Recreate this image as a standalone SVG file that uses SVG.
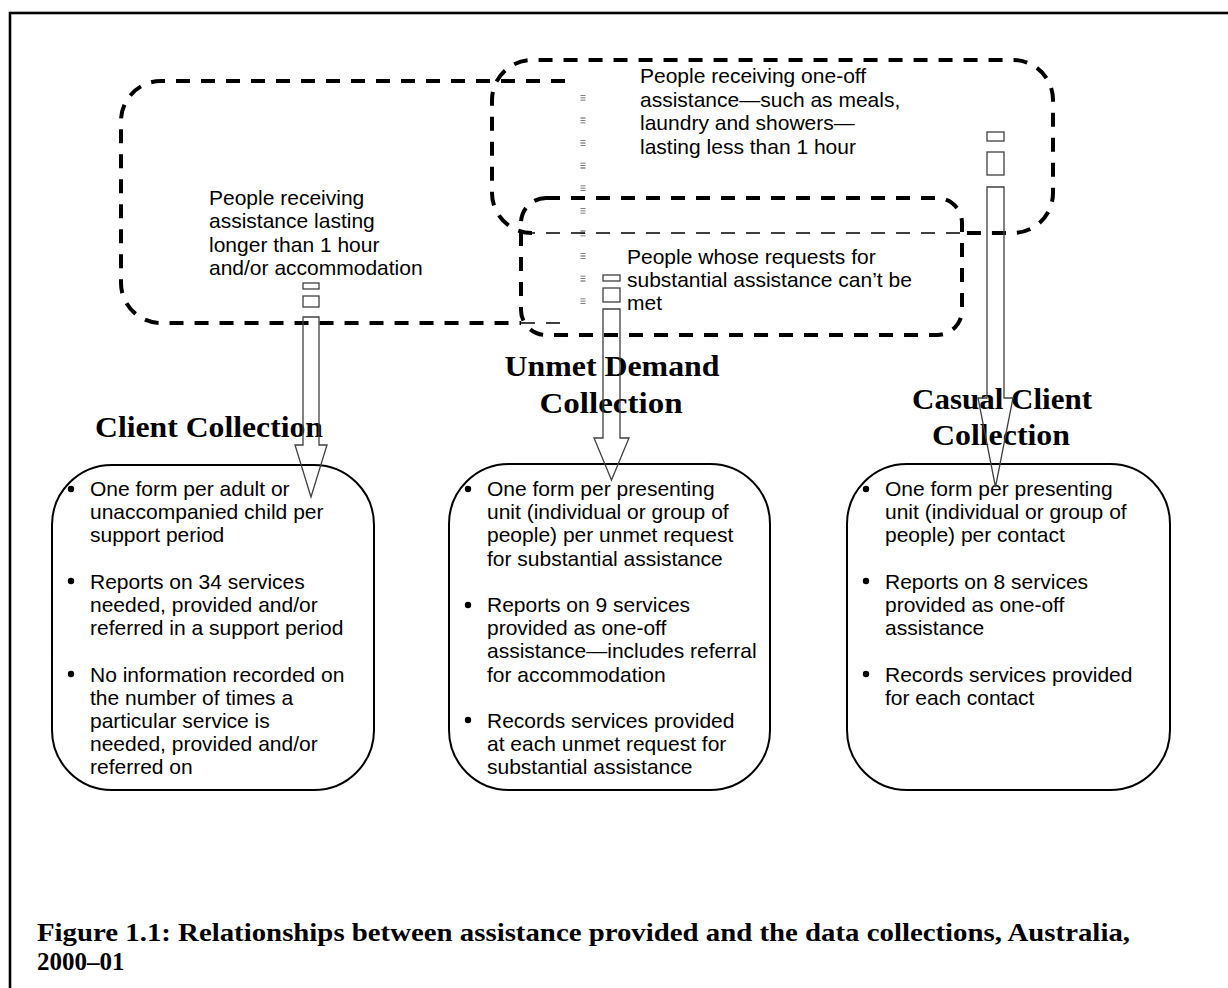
<svg xmlns="http://www.w3.org/2000/svg" width="1228" height="988" viewBox="0 0 1228 988">
<style>
.dash{fill:none;stroke:#000;stroke-width:4;stroke-dasharray:14 11}
.thin{fill:none;stroke:#000;stroke-width:1.5;stroke-dasharray:14 11}
.faint{fill:none;stroke:#555;stroke-width:5;stroke-dasharray:0.8 1.6 0.8 1.6 0.8 17}
.box{fill:none;stroke:#000;stroke-width:2}
.arr{fill:none;stroke:#404040;stroke-width:1.3}
.t{font-family:"Liberation Sans",Arial,sans-serif;font-size:21px;fill:#000}
.h{font-family:"Liberation Serif","Times New Roman",serif;font-weight:bold;font-size:29px;fill:#000;text-anchor:middle}
.cap{font-family:"Liberation Serif","Times New Roman",serif;font-weight:bold;font-size:25px;fill:#000}
</style>
<rect x="0" y="0" width="1228" height="988" fill="#fff"/>
<rect x="10" y="13" width="1240" height="1000" fill="none" stroke="#000" stroke-width="2.6"/>

<g id="long-assistance">
<path class="dash" d="M565,81 H161 A40,40 0 0 0 121,121 V283 A40,40 0 0 0 161,323 H521"/>
<path class="thin" d="M521,323 H563"/>
<path class="faint" d="M583,95 V310"/>
<text class="t" x="209" y="205">People receiving</text>
<text class="t" x="209" y="228.3">assistance lasting</text>
<text class="t" x="209" y="251.6">longer than 1 hour</text>
<text class="t" x="209" y="274.9">and/or accommodation</text>
</g>

<g id="one-off-assistance">
<path class="dash" d="M532,233 A40,40 0 0 1 492,193 V100 A40,40 0 0 1 532,60 H1013 A40,40 0 0 1 1053,100 V193 A40,40 0 0 1 1013,233 H962"/>
<path class="thin" d="M521,233 H962"/>
<text class="t" x="640" y="83">People receiving one-off</text>
<text class="t" x="640" y="106.5">assistance—such as meals,</text>
<text class="t" x="640" y="130">laundry and showers—</text>
<text class="t" x="640" y="153.5">lasting less than 1 hour</text>
</g>

<g id="unmet-requests">
<rect class="dash" x="521" y="198" width="441" height="137" rx="25"/>
<text class="t" x="627" y="264">People whose requests for</text>
<text class="t" x="627" y="287">substantial assistance can’t be</text>
<text class="t" x="627" y="310">met</text>
</g>

<g id="client-collection">
<text class="h" x="209" y="437" textLength="228" lengthAdjust="spacingAndGlyphs">Client Collection</text>
<rect class="box" x="52" y="465" width="322" height="325" rx="60"/>
<g class="t">
<circle cx="71" cy="489" r="3.2"/>
<text x="90" y="496">One form per adult or</text>
<text x="90" y="519.2">unaccompanied child per</text>
<text x="90" y="542.4">support period</text>
<circle cx="71" cy="581" r="3.2"/>
<text x="90" y="588.8">Reports on 34 services</text>
<text x="90" y="612">needed, provided and/or</text>
<text x="90" y="635.2">referred in a support period</text>
<circle cx="71" cy="674" r="3.2"/>
<text x="90" y="681.6">No information recorded on</text>
<text x="90" y="704.8">the number of times a</text>
<text x="90" y="728">particular service is</text>
<text x="90" y="751.2">needed, provided and/or</text>
<text x="90" y="774.4">referred on</text>
</g>
</g>

<g id="unmet-demand-collection">
<text class="h" x="612" y="376" textLength="215" lengthAdjust="spacingAndGlyphs">Unmet Demand</text>
<text class="h" x="611" y="413" textLength="143" lengthAdjust="spacingAndGlyphs">Collection</text>
<rect class="box" x="449" y="464" width="321" height="326" rx="60"/>
<g class="t">
<circle cx="468" cy="489" r="3.2"/>
<text x="487" y="496">One form per presenting</text>
<text x="487" y="519.2">unit (individual or group of</text>
<text x="487" y="542.4">people) per unmet request</text>
<text x="487" y="565.6">for substantial assistance</text>
<circle cx="468" cy="605" r="3.2"/>
<text x="487" y="612">Reports on 9 services</text>
<text x="487" y="635.2">provided as one-off</text>
<text x="487" y="658.4">assistance—includes referral</text>
<text x="487" y="681.6">for accommodation</text>
<circle cx="468" cy="720" r="3.2"/>
<text x="487" y="728">Records services provided</text>
<text x="487" y="751.2">at each unmet request for</text>
<text x="487" y="774.4">substantial assistance</text>
</g>
</g>

<g id="casual-client-collection">
<text class="h" x="1002" y="409" textLength="180" lengthAdjust="spacingAndGlyphs">Casual Client</text>
<text class="h" x="1001" y="445" textLength="138" lengthAdjust="spacingAndGlyphs">Collection</text>
<rect class="box" x="847" y="464" width="323" height="326" rx="60"/>
<g class="t">
<circle cx="866" cy="489" r="3.2"/>
<text x="885" y="496">One form per presenting</text>
<text x="885" y="519.2">unit (individual or group of</text>
<text x="885" y="542.4">people) per contact</text>
<circle cx="866" cy="581" r="3.2"/>
<text x="885" y="588.8">Reports on 8 services</text>
<text x="885" y="612">provided as one-off</text>
<text x="885" y="635.2">assistance</text>
<circle cx="866" cy="674" r="3.2"/>
<text x="885" y="681.6">Records services provided</text>
<text x="885" y="704.8">for each contact</text>
</g>
</g>

<g id="connectors">
<rect class="arr" x="303" y="283" width="16" height="6"/>
<rect class="arr" x="303" y="296" width="16" height="11"/>
<path class="arr" d="M303,317 H319 V445 H327 L311,497 L295,445 H303 Z"/>
<rect class="arr" x="603" y="275" width="17" height="6"/>
<rect class="arr" x="603" y="288" width="17" height="14"/>
<path class="arr" d="M603,309 H620 V438 H629 L611.5,480 L594,438 H603 Z"/>
<rect class="arr" x="987" y="132" width="17" height="9"/>
<rect class="arr" x="987" y="152" width="17" height="23"/>
<path class="arr" d="M987,187 H1004 V398 H1013 L995.5,487 L978,398 H987 Z"/>
</g>

<g id="caption">
<text class="cap" x="37" y="941" textLength="1093" lengthAdjust="spacingAndGlyphs">Figure 1.1: Relationships between assistance provided and the data collections, Australia,</text>
<text class="cap" x="37" y="970">2000–01</text>
</g>
</svg>
